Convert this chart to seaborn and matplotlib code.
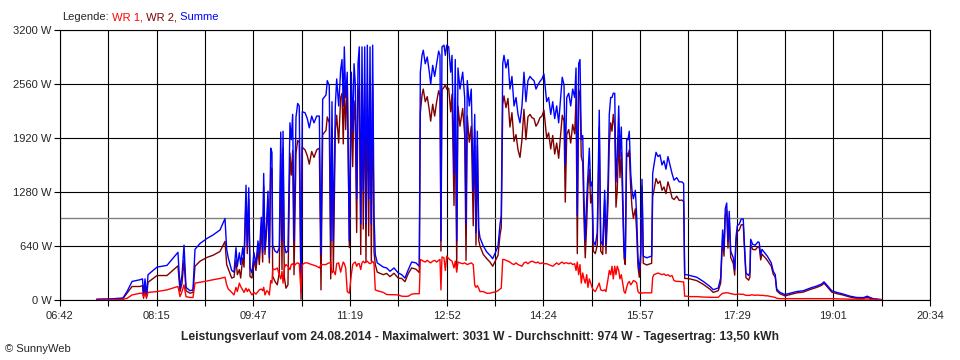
import numpy as np
import pandas as pd
import matplotlib
matplotlib.use("Agg")
import matplotlib.pyplot as plt
import seaborn as sns

# Uhrzeit in Minuten seit Mitternacht, Leistung in W
zeit = [
    437.1, 449.8, 462.2, 466.1, 470.9, 478.5, 480.9, 481.9, 483.3, 484.7,
    486.2, 494.8, 504.3, 514.8, 516.8, 518.7, 520.6, 522.5, 526.3, 529.2,
    531.1, 535.9, 542.6, 548.3, 555.0, 559.8, 561.4, 562.9, 566.2, 568.4,
    570.3, 571.6, 573.5, 574.8, 576.7, 578.0, 579.9, 581.1, 582.5, 583.7,
    585.6, 587.5, 589.4, 591.3, 592.6, 594.5, 595.8, 596.8, 598.0, 599.7,
    600.9, 602.2, 603.5, 604.7, 605.4, 607.6, 609.8, 611.7, 613.1, 614.3,
    615.3, 616.5, 618.1, 620.0, 621.9, 623.2, 624.5, 625.8, 627.7, 629.3,
    630.8, 632.5, 633.7, 636.3, 638.5, 640.4, 642.7, 644.9, 647.5, 650.0,
    651.6, 653.2, 656.4, 657.6, 659.5, 660.9, 662.1, 663.4, 665.3, 666.6,
    668.5, 670.4, 671.7, 672.9, 673.9, 675.2, 676.7, 678.7, 680.6, 681.9,
    683.2, 684.4, 685.7, 687.0, 688.2, 689.6, 690.8, 692.0, 693.4, 694.6,
    695.9, 697.2, 698.5, 699.7, 701.0, 702.3, 703.5, 705.4, 711.2, 714.4,
    717.6, 721.4, 725.5, 728.8, 731.9, 735.1, 738.3, 742.4, 745.6, 746.6,
    748.2, 749.4, 751.3, 753.2, 755.2, 756.5, 758.4, 760.3, 762.2, 764.1,
    765.4, 766.3, 767.3, 769.2, 770.5, 771.8, 773.7, 775.6, 776.9, 778.8,
    780.0, 781.4, 782.6, 784.5, 787.1, 789.0, 790.3, 791.5, 793.4, 795.3,
    797.2, 798.6, 799.8, 801.1, 802.4, 803.6, 806.8, 810.1, 813.2, 815.8,
    818.3, 820.9, 822.8, 824.0, 825.4, 826.6, 828.5, 830.4, 832.3, 834.2,
    836.2, 838.1, 840.0, 841.9, 843.8, 845.7, 847.6, 849.5, 851.5, 853.4,
    855.3, 857.2, 859.1, 861.0, 862.9, 864.8, 867.4, 869.3, 871.3, 873.2,
    875.1, 877.0, 878.9, 880.8, 882.3, 884.0, 885.2, 886.6, 888.5, 890.4,
    892.3, 894.2, 895.5, 896.7, 898.0, 899.3, 900.5, 901.9, 903.1, 904.3,
    905.7, 906.9, 908.2, 909.5, 910.8, 912.0, 913.9, 915.8, 917.7, 919.1,
    921.0, 922.9, 924.1, 926.1, 927.3, 928.6, 929.9, 931.1, 932.5, 933.7,
    934.9, 936.3, 937.5, 938.8, 940.1, 941.4, 942.6, 943.9, 945.2, 946.4,
    947.8, 949.0, 950.3, 952.2, 953.5, 954.7, 956.0, 957.3, 958.6, 959.8,
    963.1, 967.8, 968.8, 970.0, 972.0, 973.9, 975.8, 977.7, 979.6, 981.5,
    983.4, 985.3, 987.3, 989.2, 991.8, 994.2, 996.8, 998.4, 999.4, 1001.3,
    1004.5, 1010.9, 1017.2, 1023.6, 1026.7, 1031.5, 1033.8, 1035.7, 1037.0, 1038.2,
    1039.6, 1040.8, 1042.0, 1043.4, 1045.9, 1047.2, 1048.5, 1049.7, 1051.6, 1053.5,
    1055.4, 1056.8, 1058.0, 1060.6, 1061.8, 1062.5, 1064.4, 1066.9, 1069.5, 1070.7,
    1072.1, 1073.3, 1074.6, 1076.5, 1078.4, 1080.3, 1082.2, 1084.1, 1086.0, 1087.4,
    1090.5, 1095.3, 1100.1, 1106.5, 1112.8, 1119.2, 1125.6, 1130.4, 1132.6, 1135.2,
    1140.0, 1144.8, 1151.1, 1157.5, 1163.9, 1170.2, 1174.0, 1176.6, 1179.8, 1186.2,
    1187.8,
]

summe = [
    8, 12, 24, 100, 220, 240, 250, 60, 250, 50,
    300, 390, 410, 565, 140, 300, 650, 150, 110, 120,
    600, 670, 730, 770, 830, 965, 600, 500, 350, 330,
    620, 400, 560, 420, 620, 480, 1360, 650, 1330, 380,
    320, 560, 420, 700, 540, 980, 560, 1500, 600, 950,
    1290, 500, 1800, 1750, 650, 580, 560, 620, 1990, 700,
    2000, 650, 560, 580, 2100, 1900, 2200, 700, 2170, 2330,
    2300, 100, 2230, 2220, 2150, 2040, 2180, 2100, 2180, 2180,
    540, 2380, 2430, 2600, 2540, 700, 2350, 700, 2300, 2620,
    2300, 2730, 2850, 2300, 3000, 2400, 2700, 700, 2700, 2000,
    2800, 2560, 1200, 2800, 3000, 900, 3000, 1300, 3000, 900,
    3020, 1200, 3000, 900, 3020, 1000, 540, 440, 390, 380,
    340, 380, 320, 300, 260, 360, 450, 440, 400, 2700,
    2900, 2960, 2800, 2880, 2700, 2560, 2780, 2650, 2800, 2950,
    2900, 700, 3000, 3020, 2900, 3020, 3000, 2700, 2900, 1500,
    2850, 700, 2750, 2500, 2700, 2400, 900, 2600, 2300, 2500,
    1300, 2200, 800, 2000, 850, 740, 640, 570, 530, 490,
    560, 640, 900, 1000, 2800, 2900, 2750, 2850, 2500, 2650,
    2300, 2400, 2200, 2100, 2300, 2700, 2350, 2600, 2650, 2620,
    2600, 2500, 2550, 2590, 2620, 2680, 2350, 2400, 2200, 2350,
    2150, 2300, 2100, 2400, 2640, 2550, 1600, 2400, 2450, 2300,
    2500, 2400, 2750, 1000, 2800, 2850, 1900, 1950, 1200, 700,
    1200, 1500, 1800, 1350, 1400, 700, 650, 800, 2250, 700,
    650, 1300, 650, 1400, 2200, 2400, 2400, 2450, 2450, 1400,
    1700, 2300, 1700, 2050, 1300, 600, 500, 1900, 1900, 2000,
    1500, 1300, 1200, 1300, 1000, 500, 350, 550, 1430, 520,
    500, 520, 1500, 1600, 1750, 1700, 1720, 1600, 1650, 1550,
    1700, 1600, 1500, 1420, 1450, 1400, 1400, 1380, 300, 300,
    290, 270, 220, 160, 122, 142, 260, 830, 600, 1080,
    1150, 700, 1050, 580, 500, 360, 750, 880, 900, 960,
    960, 600, 320, 290, 330, 720, 660, 650, 690, 680,
    530, 600, 580, 550, 520, 480, 440, 340, 300, 130,
    90, 65, 80, 100, 110, 140, 165, 190, 215, 180,
    110, 90, 70, 45, 30, 28, 45, 30, 15, 8,
    5,
]

wr1 = [
    0, 2, 8, 20, 60, 80, 80, 40, 80, 30,
    90, 100, 120, 160, 40, 100, 180, 40, 30, 30,
    200, 210, 225, 240, 255, 270, 180, 130, 90, 60,
    150, 100, 200, 160, 120, 90, 140, 100, 130, 100,
    60, 90, 70, 100, 120, 130, 110, 150, 60, 110,
    100, 60, 230, 200, 370, 360, 380, 300, 250, 340,
    200, 380, 420, 400, 360, 420, 430, 400, 430, 440,
    430, 90, 420, 440, 440, 430, 420, 410, 400, 380,
    420, 420, 420, 430, 440, 450, 320, 350, 300, 430,
    440, 330, 400, 450, 430, 380, 100, 80, 300, 420,
    440, 450, 400, 430, 430, 360, 440, 460, 440, 450,
    460, 440, 430, 440, 460, 430, 120, 110, 90, 65,
    63, 63, 60, 45, 43, 45, 70, 75, 75, 480,
    470, 460, 450, 470, 450, 440, 460, 470, 450, 470,
    480, 120, 510, 500, 350, 520, 490, 470, 460, 380,
    460, 330, 450, 440, 430, 440, 430, 420, 430, 440,
    420, 180, 150, 170, 140, 100, 100, 80, 80, 90,
    95, 110, 130, 140, 480, 480, 470, 460, 450, 430,
    420, 440, 420, 410, 400, 440, 450, 430, 450, 460,
    450, 440, 450, 430, 440, 430, 430, 420, 410, 400,
    420, 440, 420, 440, 450, 430, 440, 440, 430, 440,
    420, 430, 350, 450, 300, 420, 200, 320, 250, 200,
    300, 150, 250, 200, 150, 120, 100, 150, 200, 120,
    110, 120, 100, 250, 350, 300, 400, 250, 400, 300,
    400, 350, 250, 300, 200, 100, 80, 150, 200, 220,
    180, 200, 230, 220, 200, 100, 80, 90, 80, 85,
    85, 85, 270, 300, 310, 320, 310, 300, 310, 290,
    300, 280, 290, 230, 220, 220, 215, 215, 45, 45,
    40, 40, 35, 32, 32, 32, 60, 80, 80, 85,
    85, 85, 80, 75, 70, 65, 65, 70, 70, 68,
    68, 60, 55, 55, 55, 60, 60, 55, 60, 55,
    55, 55, 55, 50, 50, 45, 40, 35, 30, 20,
    16, 16, 16, 16, 16, 16, 16, 16, 16, 16,
    16, 14, 12, 10, 10, 10, 12, 8, 5, 3,
    2,
]

x_labels = ["06:42", "08:15", "09:47", "11:19", "12:52",
            "14:24", "15:57", "17:29", "19:01", "20:34"]
y_werte = [0, 640, 1280, 1920, 2560, 3200]
durchschnitt = 974

df = pd.DataFrame({"zeit": zeit, "Summe": summe, "WR 1": wr1})
# WR 2 ist der Rest der Summe
df["WR 2"] = df["Summe"] - df["WR 1"]

sns.set_style("white")
plt.rcParams["font.family"] = ["Liberation Sans", "DejaVu Sans"]

fig = plt.figure(figsize=(9.6, 3.6), dpi=100)
ax = fig.add_axes([60 / 960, 60 / 360, 870 / 960, 270 / 360])

farben = {"Summe": "#0000ff", "WR 2": "#800000", "WR 1": "#ff0000"}
ebenen = {"WR 2": 3, "Summe": 4, "WR 1": 5}
for name in ["WR 2", "Summe", "WR 1"]:
    sns.lineplot(data=df, x="zeit", y=name, color=farben[name], lw=1,
                 estimator=None, ax=ax, zorder=ebenen[name])

ax.axhline(durchschnitt, color="#808080", lw=1, zorder=2)

start, ende = 402, 1234
ax.set_xlim(start, ende)
ax.set_ylim(0, 3200)
ax.set_xticks(np.linspace(start, ende, len(x_labels)))
ax.set_xticks(np.linspace(start, ende, 2 * len(x_labels) - 1), minor=True)
ax.set_xticklabels(x_labels)
ax.set_yticks(y_werte)
ax.set_yticklabels([f"{v} W" for v in y_werte])
ax.set_xlabel("")
ax.set_ylabel("")

ax.grid(True, which="both", color="black", lw=0.8, zorder=1)
ax.set_axisbelow(True)
for s in ax.spines.values():
    s.set_color("black")
    s.set_linewidth(0.8)
ax.tick_params(which="both", direction="out", length=4, width=0.8,
               color="black", labelsize=8, bottom=True, left=True)
ax.tick_params(axis="x", pad=4)
ax.tick_params(axis="y", pad=2)

# Legende oben links
t = fig.text(62 / 960, 1 - 17 / 360, "Legende:", fontsize=8, va="center")
for teil, c in [(" WR 1,", "#ff0000"), (" WR 2,", "#800000"), (" Summe", "#0000ff")]:
    t = ax.annotate(teil, xy=(1, 0), xycoords=t, va="bottom", ha="left",
                    color=c, fontsize=8, annotation_clip=False)

fig.text(0.5, 1 - 337 / 360,
         "Leistungsverlauf vom 24.08.2014 - Maximalwert: 3031 W - "
         "Durchschnitt: 974 W - Tagesertrag: 13,50 kWh",
         ha="center", va="center", fontsize=8.7, fontweight="bold")
fig.text(5 / 960, 1 - 349 / 360, "\u00a9 SunnyWeb", fontsize=8, va="center")

fig.savefig("out.png", dpi=100, facecolor="white")
